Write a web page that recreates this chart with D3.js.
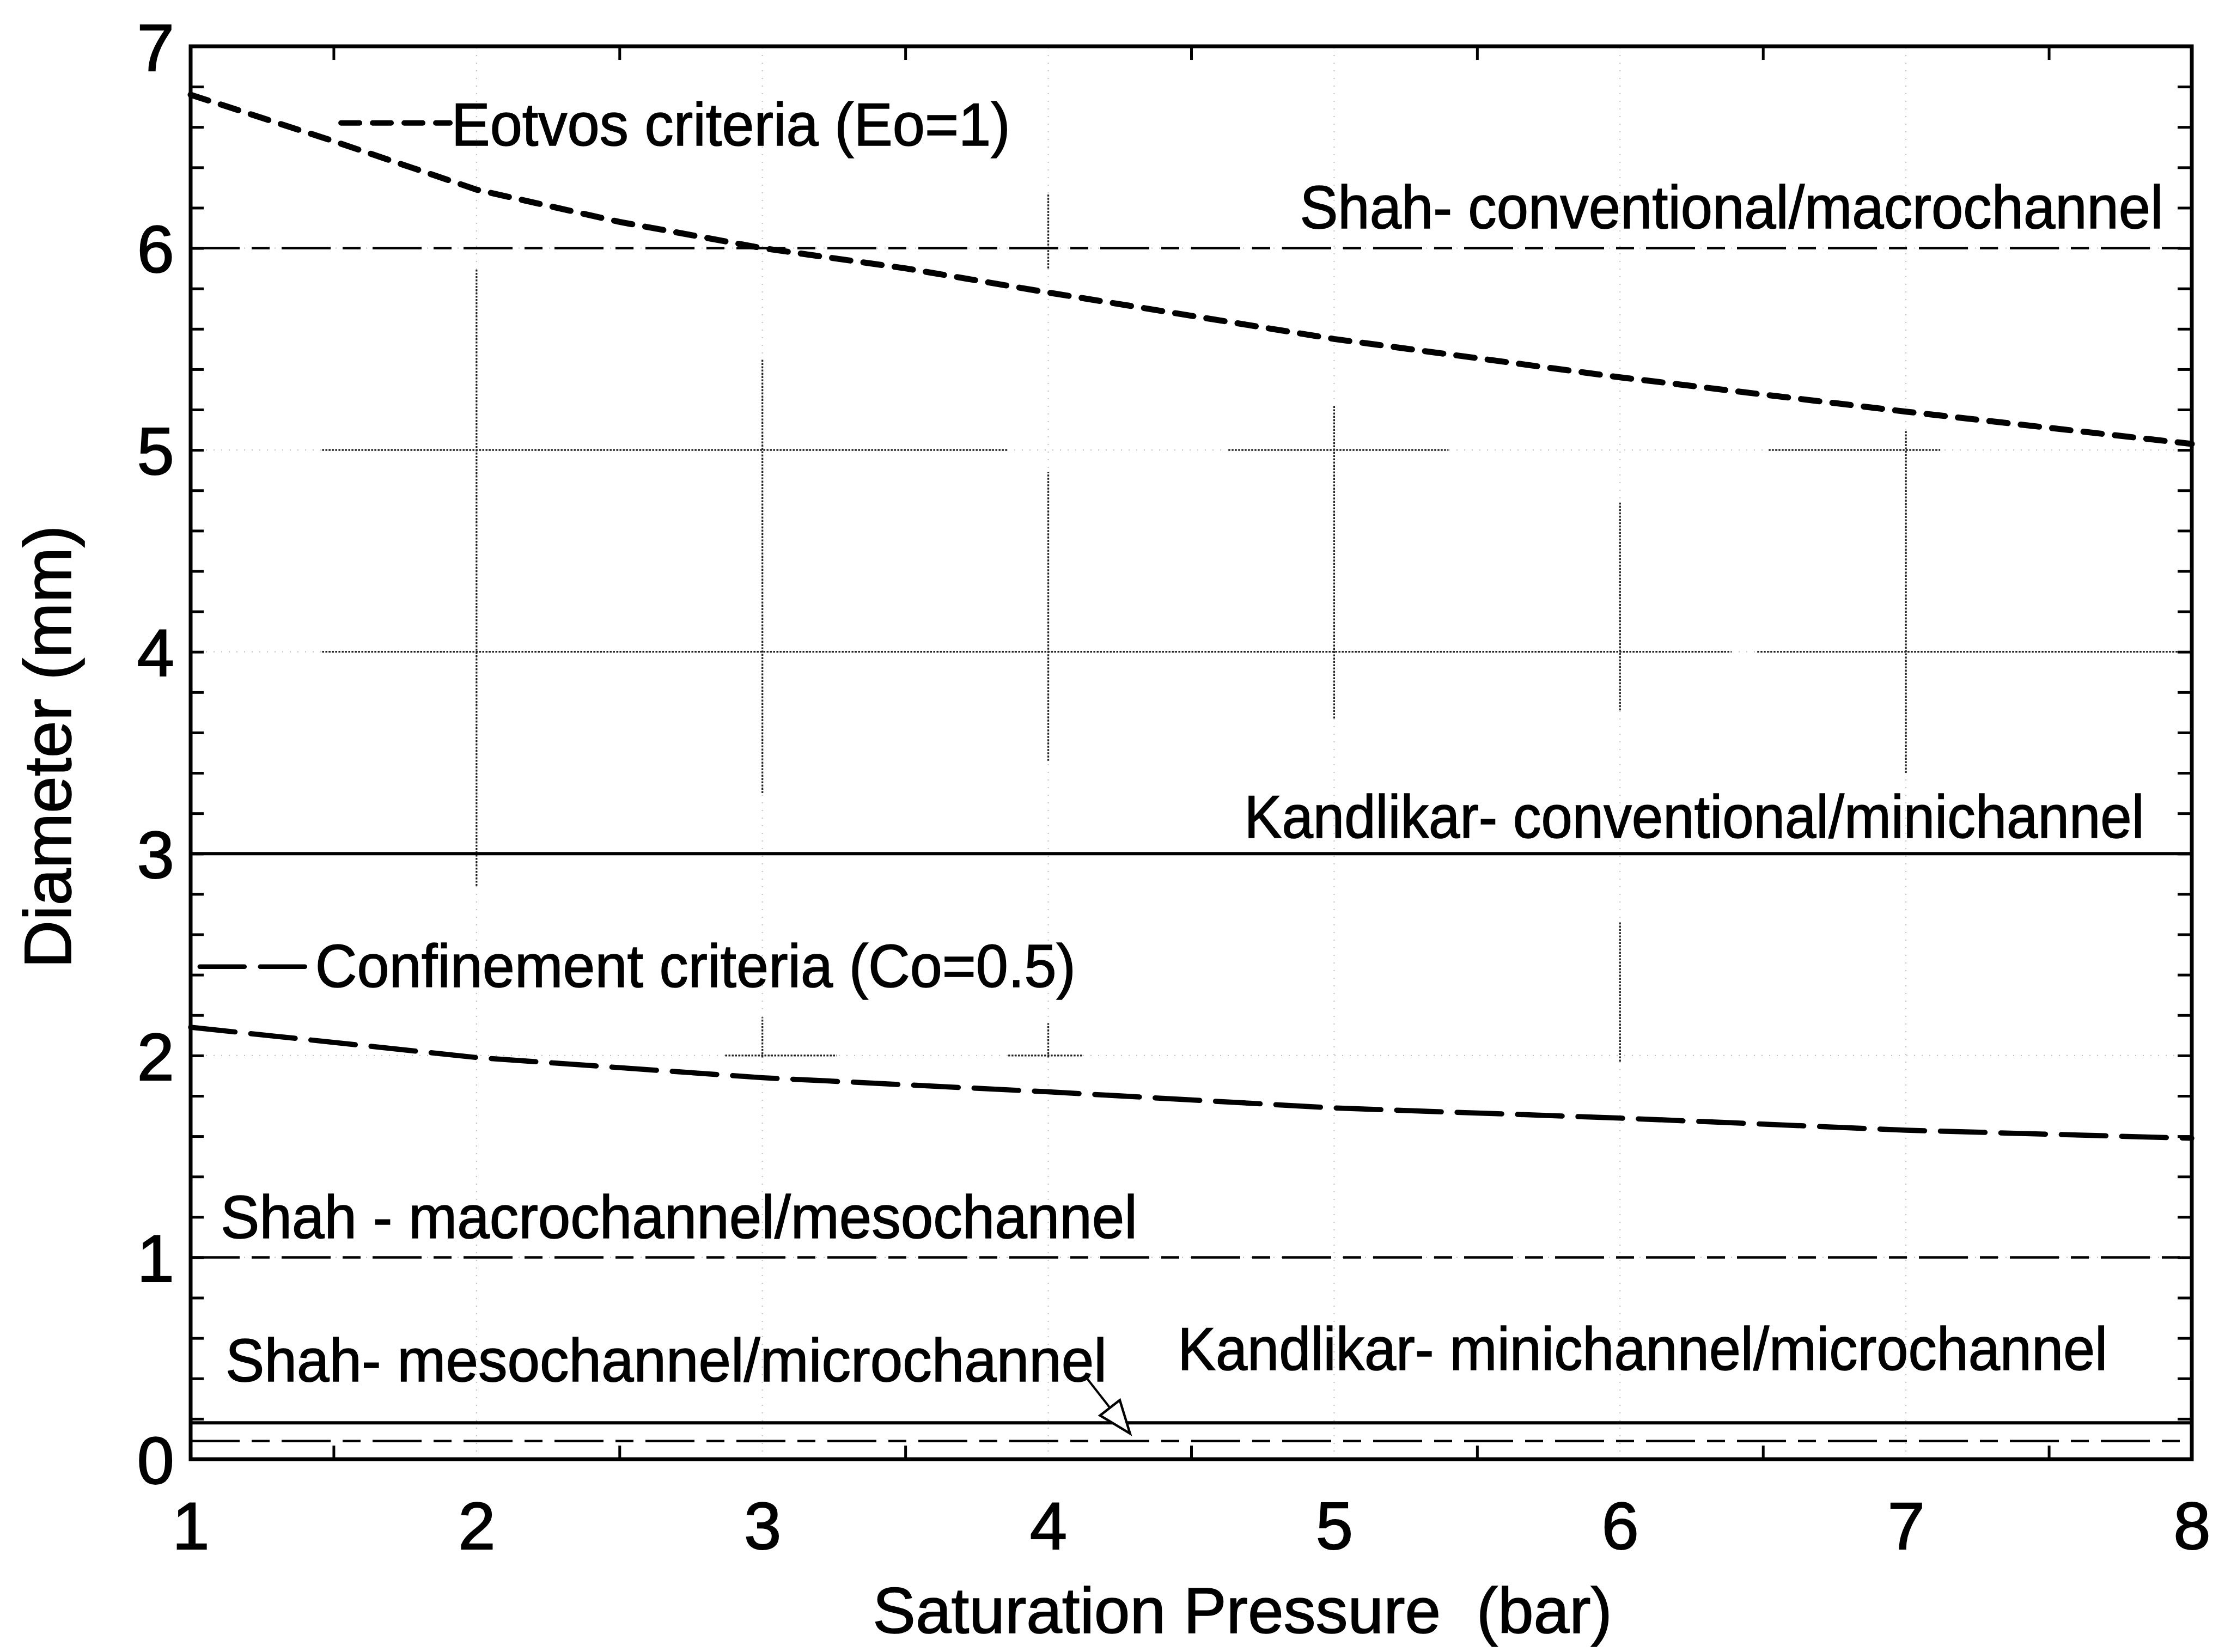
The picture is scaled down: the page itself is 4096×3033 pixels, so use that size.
<!DOCTYPE html>
<html><head><meta charset="utf-8">
<script src="https://cdn.jsdelivr.net/npm/d3@7"></script>
<style>
html,body{margin:0;padding:0;background:#fff;}
svg{display:block;}
text{font-family:"Liberation Sans",Arial,Helvetica,sans-serif;fill:#000;}
</style></head><body>
<svg id="chart" width="4096" height="3033"></svg>
<script>
// ---------------- data ----------------
const eotvosPressure = [1, 1.5, 2, 2.5, 3, 3.5, 4, 5, 6, 7, 8];
const eotvosDiameter = [6.76, 6.53, 6.29, 6.13, 6.00, 5.90, 5.78, 5.55, 5.36, 5.19, 5.03];
const confinementPressure = [1, 2, 3, 4, 5, 6, 7, 8];
const confinementDiameter = [2.14, 1.99, 1.89, 1.82, 1.74, 1.69, 1.63, 1.59];

const thresholdNames  = ["Shah- conventional/macrochannel", "Kandlikar- conventional/minichannel",
                         "Shah - macrochannel/mesochannel", "Kandlikar- minichannel/microchannel",
                         "Shah- mesochannel/microchannel"];
const thresholdValues = [6, 3, 1, 0.18, 0.09];
const thresholdKinds  = ["shah", "kandlikar", "shah", "kandlikar", "shah"];

const curveNames = ["Eotvos criteria (Eo=1)", "Confinement criteria (Co=0.5)"];

const xTickLabels = [1, 2, 3, 4, 5, 6, 7, 8];
const yTickLabels = [0, 1, 2, 3, 4, 5, 6, 7];
const xMinorTicks = [1.5, 2.5, 3.5, 4.5, 5.5, 6.5, 7.5];

const gridX = [2, 3, 4, 5, 6, 7];
const gridY = [1, 2, 3, 4, 5, 6];
// visible (darker) dotted grid pieces
const vSegX    = [2, 3, 3, 4, 4, 4, 5, 6, 6, 7];
const vSegFrom = [2.84, 3.30, 1.99, 3.46, 5.90, 1.99, 3.67, 3.71, 1.97, 3.40];
const vSegTo   = [5.90, 5.45, 2.19, 4.89, 6.27, 2.16, 5.22, 4.74, 2.66, 5.10];
const hSegY    = [5, 5, 5, 4, 4, 2, 2];
const hSegFrom = [1.46, 4.63, 6.52, 1.46, 6.48, 2.87, 3.86];
const hSegTo   = [3.86, 5.40, 7.12, 6.39, 7.97, 3.26, 4.12];

// ---------------- layout ----------------
const W = 4096, H = 3033;
const M = {left: 350, right: 4024, top: 85, bottom: 2679};
const x = d3.scaleLinear().domain([1, 8]).range([M.left, M.right]);
const y = d3.scaleLinear().domain([0, 7]).range([M.bottom, M.top]);

// annotation anchors (data units) and rendered widths
const labelPos = {
  "Eotvos criteria (Eo=1)":              {x: 1.912, y: 6.51, w: 1026},
  "Shah- conventional/macrochannel":     {x: 4.880, y: 6.10, w: 1585},
  "Kandlikar- conventional/minichannel": {x: 4.686, y: 3.08, w: 1652},
  "Confinement criteria (Co=0.5)":       {x: 1.436, y: 2.34, w: 1396},
  "Shah - macrochannel/mesochannel":     {x: 1.105, y: 1.095, w: 1683},
  "Shah- mesochannel/microchannel":      {x: 1.122, y: 0.386, w: 1618},
  "Kandlikar- minichannel/microchannel": {x: 4.453, y: 0.443, w: 1707}
};
const samplePos = {
  "Eotvos criteria (Eo=1)":        {x1: 1.526, x2: 1.907, y: 6.62},
  "Confinement criteria (Co=0.5)": {x1: 1.032, x2: 1.413, y: 2.44}
};
const arrowStart = [4.13, 0.41], arrowTip = [4.286, 0.127];

const styles = {
  shah:      {w: 4.5, dash: "90,22,33,22", cap: "butt"},
  kandlikar: {w: 6,   dash: null, cap: "butt"},
  eotvos:    {w: 11,  dash: "34,24", cap: "round"},
  confine:   {w: 9.5, dash: "82,29", cap: "round"}
};

const svg = d3.select("#chart");
svg.append("rect").attr("width", W).attr("height", H).attr("fill", "#fff");

// faint full dotted grid
const grid = svg.append("g");
grid.selectAll(".gx").data(gridX).join("line")
  .attr("x1", d => x(d)).attr("x2", d => x(d)).attr("y1", y(0)).attr("y2", y(7))
  .attr("stroke", "#c0c0c0").attr("stroke-width", 2).attr("stroke-dasharray", "2,12");
grid.selectAll(".gy").data(gridY).join("line")
  .attr("y1", d => y(d)).attr("y2", d => y(d)).attr("x1", x(1)).attr("x2", x(8))
  .attr("stroke", "#c0c0c0").attr("stroke-width", 2).attr("stroke-dasharray", "2,12");

// darker visible grid pieces
grid.selectAll(".vs").data(vSegX.map((v, i) => i)).join("line")
  .attr("x1", i => x(vSegX[i])).attr("x2", i => x(vSegX[i]))
  .attr("y1", i => y(vSegFrom[i])).attr("y2", i => y(vSegTo[i]))
  .attr("stroke", "#222").attr("stroke-width", 3.2).attr("stroke-dasharray", "3.5,2.5");
grid.selectAll(".hs").data(hSegY.map((v, i) => i)).join("line")
  .attr("y1", i => y(hSegY[i])).attr("y2", i => y(hSegY[i]))
  .attr("x1", i => x(hSegFrom[i])).attr("x2", i => x(hSegTo[i]))
  .attr("stroke", "#222").attr("stroke-width", 3.2).attr("stroke-dasharray", "3.5,2.5");

// threshold lines
svg.append("g").selectAll("line").data(thresholdValues.map((v, i) => i)).join("line")
  .attr("x1", x(1)).attr("x2", x(8))
  .attr("y1", i => y(thresholdValues[i])).attr("y2", i => y(thresholdValues[i]))
  .attr("stroke", "#000")
  .attr("stroke-width", i => styles[thresholdKinds[i]].w)
  .attr("stroke-dasharray", i => styles[thresholdKinds[i]].dash);

// curves
const line = d3.line().x(d => x(d[0])).y(d => y(d[1]));
svg.append("path")
  .attr("d", line(eotvosPressure.map((p, i) => [p, eotvosDiameter[i]])))
  .attr("fill", "none").attr("stroke", "#000")
  .attr("stroke-width", styles.eotvos.w).attr("stroke-dasharray", styles.eotvos.dash)
  .attr("stroke-linecap", styles.eotvos.cap);
svg.append("path")
  .attr("d", line(confinementPressure.map((p, i) => [p, confinementDiameter[i]])))
  .attr("fill", "none").attr("stroke", "#000")
  .attr("stroke-width", styles.confine.w).attr("stroke-dasharray", styles.confine.dash)
  .attr("stroke-linecap", styles.confine.cap);

// legend samples next to curve labels
const sampleStyle = [styles.eotvos, styles.confine];
curveNames.forEach((n, i) => {
  const s = samplePos[n], st = sampleStyle[i];
  svg.append("line")
    .attr("x1", x(s.x1)).attr("x2", x(s.x2)).attr("y1", y(s.y)).attr("y2", y(s.y))
    .attr("stroke", "#000").attr("stroke-width", st.w - 1)
    .attr("stroke-dasharray", st.dash).attr("stroke-linecap", st.cap);
});

// annotation labels
const allLabels = curveNames.concat(thresholdNames);
svg.append("g").selectAll("text").data(allLabels).join("text")
  .attr("x", d => x(labelPos[d].x)).attr("y", d => y(labelPos[d].y))
  .attr("font-size", 112)
  .attr("stroke", "#000").attr("stroke-width", 1.6)
  .attr("textLength", d => labelPos[d].w).attr("lengthAdjust", "spacingAndGlyphs")
  .text(d => d);

// arrow
(function(){
  const sx = x(arrowStart[0]), sy = y(arrowStart[1]);
  const tx = x(arrowTip[0]), ty = y(arrowTip[1]);
  const a = Math.atan2(ty - sy, tx - sx);
  const hl = 60, hw = 23;
  const bx = tx - hl * Math.cos(a), by = ty - hl * Math.sin(a);
  const px = -Math.sin(a) * hw, py = Math.cos(a) * hw;
  svg.append("line").attr("x1", sx).attr("y1", sy).attr("x2", bx).attr("y2", by)
    .attr("stroke", "#000").attr("stroke-width", 4);
  svg.append("path")
    .attr("d", `M${tx},${ty}L${bx + px},${by + py}L${bx - px},${by - py}Z`)
    .attr("fill", "#fff").attr("stroke", "#000").attr("stroke-width", 4.5)
    .attr("stroke-linejoin", "miter");
})();

// minor tick marks (inward) on all four sides
const tickW = 5;
function styleTicks(g){ g.select(".domain").remove(); g.selectAll("line").attr("stroke-width", tickW).attr("stroke", "#000"); }
svg.append("g").attr("transform", `translate(0,${M.bottom})`)
  .call(d3.axisBottom(x).tickValues(xMinorTicks).tickSizeInner(-25).tickSizeOuter(0).tickFormat(""))
  .call(styleTicks);
svg.append("g").attr("transform", `translate(0,${M.top})`)
  .call(d3.axisTop(x).tickValues(xMinorTicks).tickSizeInner(-25).tickSizeOuter(0).tickFormat(""))
  .call(styleTicks);
const yMinor = d3.range(1, 35).map(k => k / 5);
svg.append("g").attr("transform", `translate(${M.left},0)`)
  .call(d3.axisLeft(y).tickValues(yMinor).tickSizeInner(-24).tickSizeOuter(0).tickFormat(""))
  .call(styleTicks);
svg.append("g").attr("transform", `translate(${M.right},0)`)
  .call(d3.axisRight(y).tickValues(yMinor).tickSizeInner(-26).tickSizeOuter(0).tickFormat(""))
  .call(styleTicks);

// border
svg.append("rect")
  .attr("x", x(1)).attr("y", y(7)).attr("width", x(8) - x(1)).attr("height", y(0) - y(7))
  .attr("fill", "none").attr("stroke", "#000").attr("stroke-width", 7);

// tick labels
const xa = svg.append("g").attr("transform", `translate(0,${M.bottom})`)
  .call(d3.axisBottom(x).tickValues(xTickLabels).tickSize(0).tickPadding(78).tickFormat(d3.format("d")));
xa.select(".domain").remove();
xa.attr("font-size", 123).attr("font-family", "Liberation Sans, Arial, sans-serif");
xa.selectAll("text").attr("stroke", "#000").attr("stroke-width", 2);

const ya = svg.append("g").attr("transform", `translate(${M.left},0)`)
  .call(d3.axisLeft(y).tickValues(yTickLabels).tickSize(0).tickPadding(30).tickFormat(d3.format("d")));
ya.select(".domain").remove();
ya.attr("font-size", 123).attr("font-family", "Liberation Sans, Arial, sans-serif");
ya.selectAll("text").attr("dy", "0.36em").attr("stroke", "#000").attr("stroke-width", 2);

// axis titles
svg.append("text").attr("x", 2281).attr("y", 2998).attr("text-anchor", "middle")
  .attr("font-size", 118).attr("stroke", "#000").attr("stroke-width", 1.6)
  .text("Saturation Pressure\u00A0 (bar)");
svg.append("text").attr("transform", "translate(130,1371) rotate(-90)").attr("text-anchor", "middle")
  .attr("font-size", 122).attr("stroke", "#000").attr("stroke-width", 1.6)
  .text("Diameter (mm)");
</script>
</body></html>
